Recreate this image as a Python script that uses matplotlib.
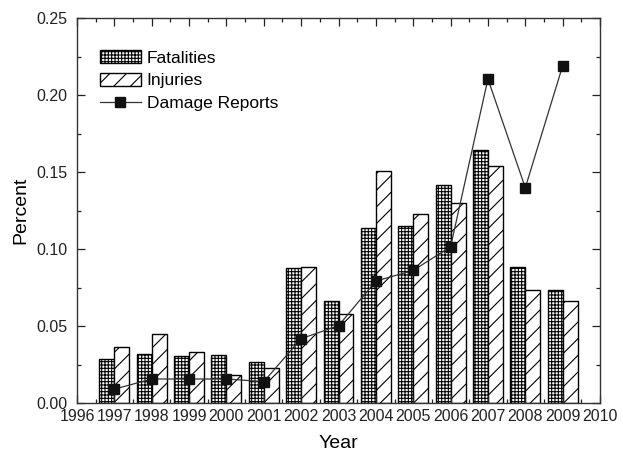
#! /usr/bin/env python3

import numpy as np
import matplotlib
matplotlib.use('Agg')
import matplotlib.pyplot as plt
from matplotlib.ticker import MultipleLocator, FormatStrFormatter

plt.rcParams['font.family'] = ['Liberation Sans', 'DejaVu Sans']
plt.rcParams['hatch.linewidth'] = 0.8

years = [1997, 1998, 1999, 2000, 2001, 2002, 2003, 2004, 2005, 2006, 2007, 2008, 2009]
fatalities = [0.0284, 0.0318, 0.0307, 0.0312, 0.0266, 0.0874, 0.0662,
              0.1134, 0.1149, 0.1413, 0.1641, 0.0883, 0.0736]
injuries = [0.0362, 0.0446, 0.0329, 0.0182, 0.0227, 0.0883, 0.0578,
            0.1504, 0.1225, 0.1301, 0.1537, 0.0736, 0.0662]
damage = [0.0090, 0.0156, 0.0156, 0.0156, 0.0139, 0.0418, 0.0502,
          0.0792, 0.0861, 0.1015, 0.2104, 0.1398, 0.2190]

fig = plt.figure(figsize=(6.23, 4.51), dpi=100)
ax = fig.add_axes([0.1236, 0.1064, 0.8395, 0.8536])

x = np.array(years)
w = 0.4
b1 = ax.bar(x - w / 2, fatalities, w, color='white', edgecolor='black',
            linewidth=1.0, hatch='+++++', label='Fatalities')
b2 = ax.bar(x + w / 2, injuries, w, color='white', edgecolor='black',
            linewidth=1.0, hatch='//', label='Injuries')
l1, = ax.plot(x, damage, color='#333333', linewidth=0.9, marker='s',
              markersize=7, markerfacecolor='#111111', markeredgecolor='#111111',
              label='Damage Reports')

ax.set_xlim(1996, 2010)
ax.set_ylim(0, 0.25)
ax.xaxis.set_major_locator(MultipleLocator(1))
ax.xaxis.set_minor_locator(MultipleLocator(0.5))
ax.yaxis.set_major_locator(MultipleLocator(0.05))
ax.yaxis.set_minor_locator(MultipleLocator(0.025))
ax.yaxis.set_major_formatter(FormatStrFormatter('%.2f'))
ax.tick_params(which='both', direction='in', top=True, right=True,
               labelsize=11.5, colors='#222222')
ax.tick_params(which='major', length=6, width=0.9)
ax.tick_params(which='minor', length=3, width=0.9)
ax.tick_params(axis='y', pad=7)
ax.tick_params(axis='x', pad=4)
for s in ax.spines.values():
    s.set_linewidth(1.0)
    s.set_color('#333333')

ax.set_xlabel('Year', fontsize=14, labelpad=8)
ax.set_ylabel('Percent', fontsize=14, labelpad=5)

leg = ax.legend([b1, b2, l1], ['Fatalities', 'Injuries', 'Damage Reports'],
                loc='upper left', bbox_to_anchor=(0.03, 0.935), frameon=False,
                fontsize=12.5, handlelength=2.4, handleheight=0.8,
                handletextpad=0.3, labelspacing=0.4, borderaxespad=0)

plt.savefig('out.png', dpi=100)
